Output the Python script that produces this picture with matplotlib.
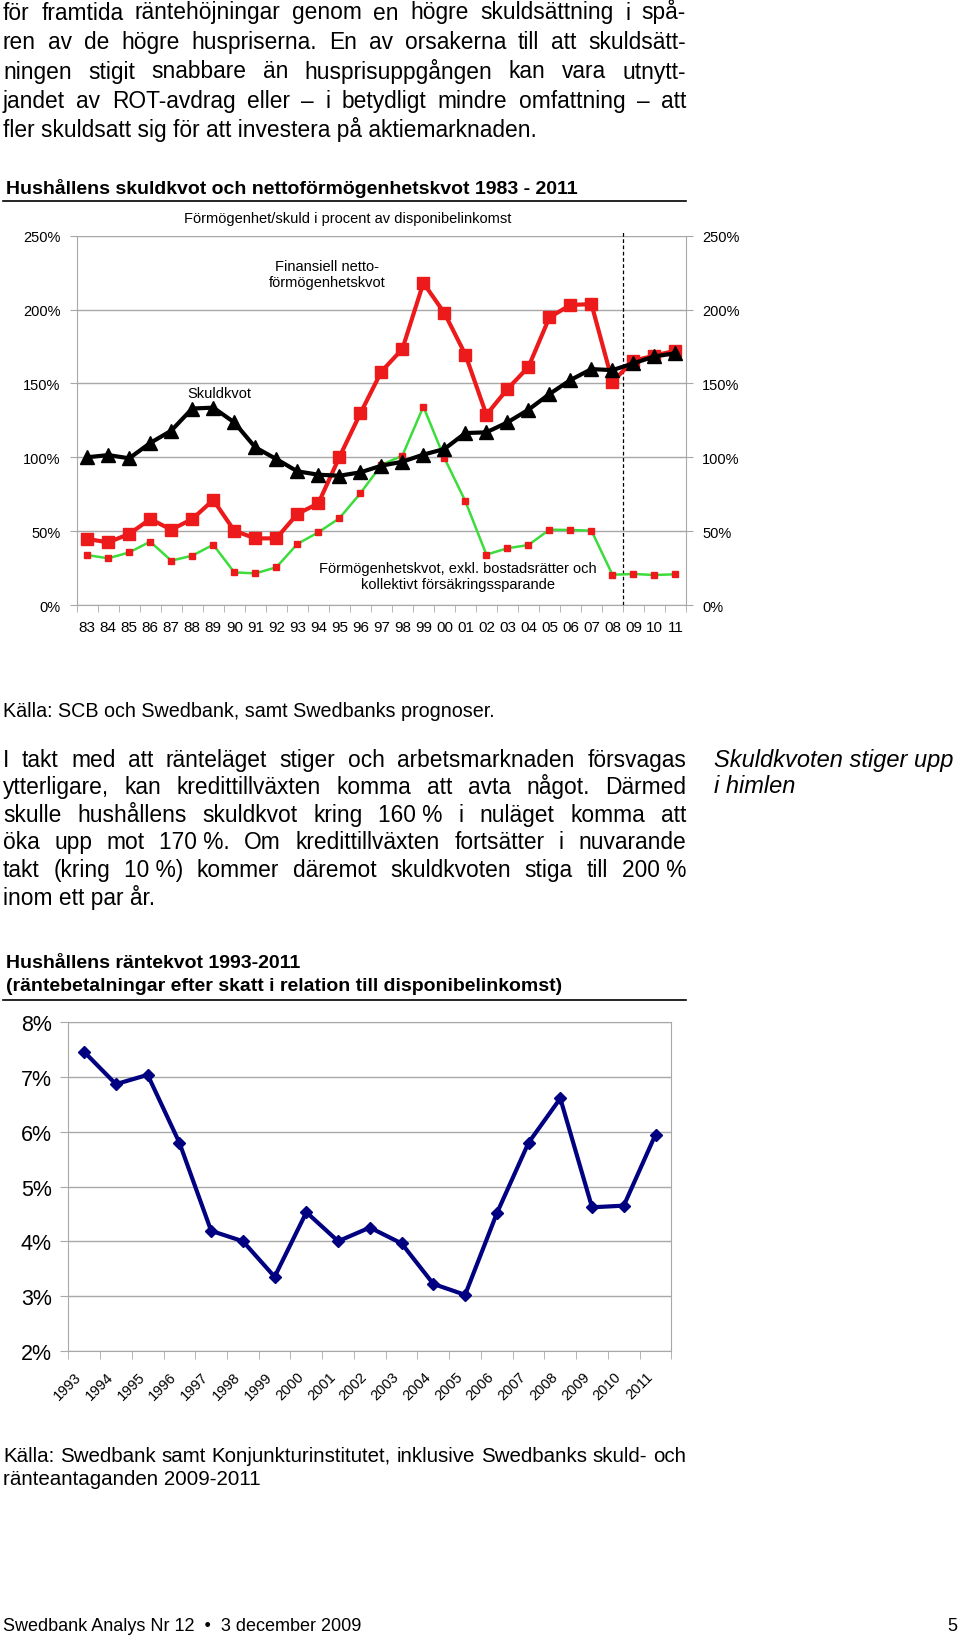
import matplotlib
matplotlib.use("Agg")
import matplotlib.pyplot as plt
from matplotlib.lines import Line2D
from matplotlib.transforms import ScaledTranslation

W, H = 960, 1640

plt.rcParams['font.family'] = ['Liberation Sans', 'DejaVu Sans']

# --- chart 1: skuldkvot / nettoförmögenhetskvot 1983-2011 (% of disposable income)
years = ['83', '84', '85', '86', '87', '88', '89', '90', '91', '92', '93', '94', '95', '96',
         '97', '98', '99', '00', '01', '02', '03', '04', '05', '06', '07', '08', '09', '10', '11']
skuldkvot = [100, 101.5, 99.3, 109.7, 118, 133, 133.6, 123.6, 106.7, 98.8, 90.5, 88.2, 87.5, 89.8,
             94.3, 97, 101.8, 105.6, 116.4, 116.9, 123.6, 132.2, 142.8, 152.3, 159.7, 159, 163.6,
             168.3, 170.4]
finansiell = [44.7, 42.4, 48.1, 58.2, 51, 58.2, 71.1, 50.3, 45.1, 45.1, 61.6, 68.8, 100, 129.7,
              158, 173.3, 218, 197.7, 169.5, 128.8, 146.2, 161.1, 194.7, 203.1, 203.7, 151.2,
              165.4, 168.8, 172.2]
exkl_bostad = [33.8, 31.6, 35.6, 42.9, 30, 33.4, 40.8, 22.1, 21.4, 25.5, 41.3, 49.2, 58.7, 75.6,
               94.8, 101.1, 134.3, 99.5, 70.2, 34.1, 38.4, 40.6, 51, 50.8, 50.3, 20.5, 21, 20.3,
               20.8]
prognos_start = 25.5  # between 08 and 09

# --- chart 2: räntekvot 1993-2011
rante_years = ['1993', '1994', '1995', '1996', '1997', '1998', '1999', '2000', '2001', '2002',
               '2003', '2004', '2005', '2006', '2007', '2008', '2009', '2010', '2011']
rantekvot = [7.46, 6.87, 7.04, 5.80, 4.19, 4.0, 3.35, 4.53, 4.0, 4.25, 3.96, 3.22, 3.02, 4.51,
             5.80, 6.61, 4.62, 4.65, 5.95]

top_text = ["för framtida räntehöjningar genom en högre skuldsättning i spå-",
            "ren av de högre huspriserna. En av orsakerna till att skuldsätt-",
            "ningen stigit snabbare än husprisuppgången kan vara utnytt-",
            "jandet av ROT-avdrag eller – i betydligt mindre omfattning – att",
            "fler skuldsatt sig för att investera på aktiemarknaden."]
mid_text = ["I takt med att ränteläget stiger och arbetsmarknaden försvagas",
            "ytterligare, kan kredittillväxten komma att avta något. Därmed",
            "skulle hushållens skuldkvot kring 160\u00a0% i nuläget komma att",
            "öka upp mot 170\u00a0%. Om kredittillväxten fortsätter i nuvarande",
            "takt (kring 10\u00a0%) kommer däremot skuldkvoten stiga till 200\u00a0%",
            "inom ett par år."]
kalla2 = ["Källa: Swedbank samt Konjunkturinstitutet, inklusive Swedbanks skuld- och",
          "ränteantaganden 2009-2011"]

RED = '#EC1A1A'
GREEN = '#3CDC3C'
NAVY = '#000080'
GRID = '#A8A8A8'
LEFT, RIGHT = 3, 686

fig = plt.figure(figsize=(W / 100, H / 100), dpi=100)
renderer = fig.canvas.get_renderer()


def put_line(text, y, size, justify=False, x=LEFT, style='normal'):
    # y is the baseline, in pixels from the top of the page
    yf = 1 - y / H
    if not justify:
        fig.text(x / W, yf, text, fontsize=size, style=style, va='baseline')
        return
    words = text.split(' ')
    items = [fig.text(0, yf, w, fontsize=size, va='baseline') for w in words]
    widths = [t.get_window_extent(renderer).width for t in items]
    gap = (RIGHT - LEFT - sum(widths)) / (len(words) - 1)
    pos = LEFT
    for t, wd in zip(items, widths):
        t.set_x(pos / W)
        pos += wd + gap


def rule(y):
    fig.add_artist(Line2D([LEFT / W, RIGHT / W], [1 - y / H] * 2, color='black', lw=1.2))


body_size = 16.4

for i, line in enumerate(top_text):
    put_line(line, 19.5 + 29.5 * i, body_size, justify=i < len(top_text) - 1)

# chart 1 heading
fig.text(6 / W, 1 - 188.3 / H, 'Hushållens skuldkvot och nettoförmögenhetskvot 1983 - 2011',
         fontsize=14, weight='bold', va='center')
rule(202.3)

ax1 = fig.add_axes([76.7 / W, 1 - 606 / H, 609.3 / W, 369.3 / H])
x = list(range(len(years)))
ax1.plot(x, exkl_bostad, color=GREEN, lw=1.8, marker='s', ms=5, mfc=RED, mec=RED, zorder=3)
ax1.plot(x, finansiell, color=RED, lw=3, marker='s', ms=9, zorder=4)
ax1.plot(x, skuldkvot, color='black', lw=3, marker='^', ms=9.5, zorder=5)
ax1.axvline(prognos_start, ymin=0, ymax=1.015, color='black', lw=0.9, ls=(0, (3, 2)),
            clip_on=False, zorder=2)

ax1.set_xlim(-0.5, len(years) - 0.5)
ax1.set_ylim(0, 250)
ax1.set_xticks(x)
ax1.set_xticklabels(years)
ax1.set_xticks([i - 0.5 for i in range(len(years) + 1)], minor=True)
ax1.tick_params(axis='x', which='major', length=0, pad=11, labelsize=11)
ax1.tick_params(axis='x', which='minor', length=5, color=GRID)
ax1.set_yticks(range(0, 251, 50))
ax1.set_yticklabels([f'{v}%' for v in range(0, 251, 50)])
ax1.tick_params(axis='y', left=True, right=True, labelleft=True, labelright=True,
                length=5, color=GRID, labelsize=10.5, pad=6.5)
ax1.yaxis.grid(True, color=GRID, lw=1)
ax1.set_axisbelow(True)
ax1.spines['top'].set_visible(False)
for s in ('left', 'right', 'bottom'):
    ax1.spines[s].set_color(GRID)

ax1.text(12.4, 262.3, 'Förmögenhet/skuld i procent av disponibelinkomst',
         fontsize=10.5, ha='center', va='center')
ax1.text(11.4, 224, 'Finansiell netto-\nförmögenhetskvot', fontsize=10.5, ha='center',
         va='center', linespacing=1.15)
ax1.text(6.28, 143.5, 'Skuldkvot', fontsize=10.5, ha='center', va='center')
ax1.text(17.65, 19.5, 'Förmögenhetskvot, exkl. bostadsrätter och\nkollektivt försäkringssparande',
         fontsize=10.5, ha='center', va='center', linespacing=1.15)

put_line('Källa: SCB och Swedbank, samt Swedbanks prognoser.', 717.5, 14.2)

for i, line in enumerate(mid_text):
    put_line(line, 766.7 + 27.6 * i, body_size, justify=i < len(mid_text) - 1)
put_line('Skuldkvoten stiger upp', 766.7, 17, x=714, style='italic')
put_line('i himlen', 792.8, 17, x=714, style='italic')

# chart 2 heading
fig.text(6 / W, 1 - 963.3 / H, 'Hushållens räntekvot 1993-2011', fontsize=14, weight='bold',
         va='center')
fig.text(6 / W, 1 - 986.7 / H, '(räntebetalningar efter skatt i relation till disponibelinkomst)',
         fontsize=14, weight='bold', va='center')
rule(1001)

ax2 = fig.add_axes([68.3 / W, 1 - 1351.7 / H, 603.1 / W, 328.4 / H])
x2 = list(range(len(rante_years)))
ax2.plot(x2, rantekvot, color=NAVY, lw=3, marker='D', ms=6.5, zorder=3)
ax2.set_xlim(-0.5, len(rante_years) - 0.5)
ax2.set_ylim(2, 8)
ax2.set_yticks(range(2, 9))
ax2.set_yticklabels([f'{v}%' for v in range(2, 9)])
ax2.set_xticks(x2)
ax2.set_xticklabels(rante_years, rotation=45, ha='right', va='top')
shift = ScaledTranslation(-5 / 100, 0, fig.dpi_scale_trans)
for lab in ax2.get_xticklabels():
    lab.set_transform(lab.get_transform() + shift)
ax2.set_xticks([i - 0.5 for i in range(len(rante_years) + 1)], minor=True)
ax2.tick_params(axis='x', which='major', length=0, pad=13, labelsize=10.5)
ax2.tick_params(axis='x', which='minor', length=6, color=GRID)
ax2.tick_params(axis='y', length=6, color=GRID, labelsize=15.5, pad=6)
ax2.yaxis.grid(True, color=GRID, lw=1)
ax2.set_axisbelow(True)
for s in ax2.spines.values():
    s.set_color(GRID)

put_line(kalla2[0], 1462, 14.8, justify=True)
put_line(kalla2[1], 1485, 14.8)

put_line('Swedbank Analys Nr 12  •  3 december 2009', 1631, 13)
fig.text(957 / W, 1 - 1631 / H, '5', fontsize=13, ha='right', va='baseline')

fig.savefig('out.png', dpi=100)
